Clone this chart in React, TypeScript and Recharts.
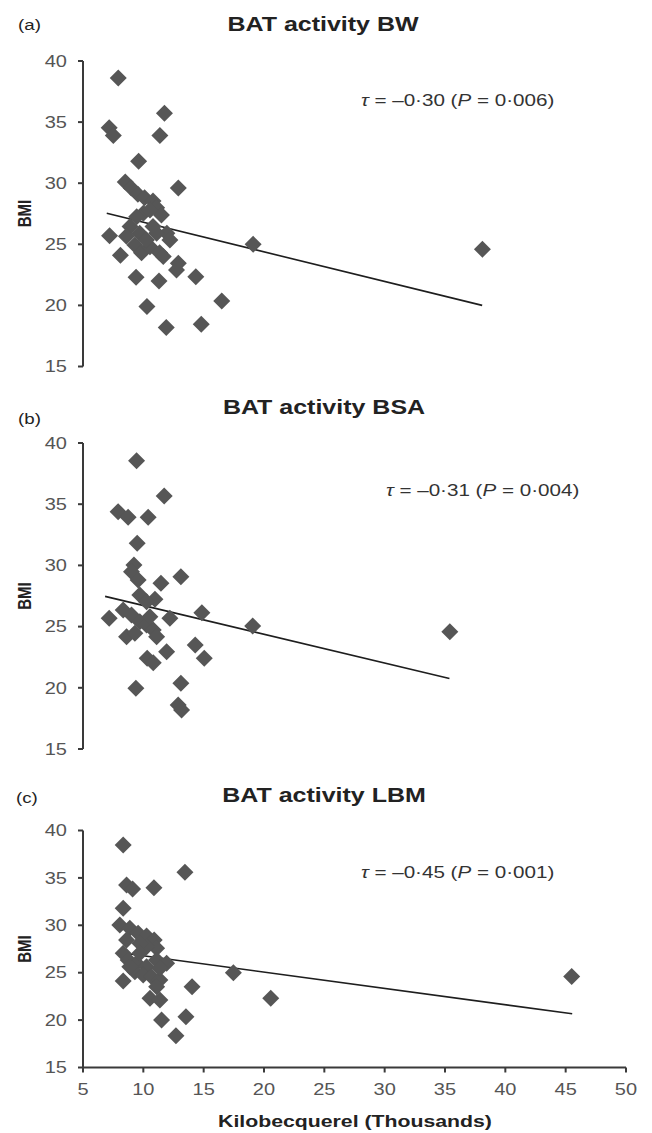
import React from 'react';
import { ScatterChart, Scatter, XAxis, YAxis, ReferenceLine } from 'recharts';

const FONT = '"Liberation Sans", Arial, Helvetica, sans-serif';
const SX = 1.25;

const xTicks = [5, 10, 15, 20, 25, 30, 35, 40, 45, 50];
const yTicks = [15, 20, 25, 30, 35, 40];

const panelTitles = ['BAT activity BW', 'BAT activity BSA', 'BAT activity LBM'];
const panelLetters = ['(a)', '(b)', '(c)'];
const tauValues = ['0·30', '0·31', '0·45'];
const pValues = ['0·006', '0·004', '0·001'];

// Panel (a) BAT activity BW
const bwX = [7.92, 7.17, 7.51, 11.75, 11.37, 9.61, 8.5, 12.9, 7.2, 8.1, 9.4, 11.3, 10.3, 11.9, 14.8, 16.5, 14.35, 12.9, 12.75, 19.1, 38.1,
  9.0, 9.55, 10.1, 10.8, 11.1, 11.5, 10.0, 10.55, 9.45, 8.9, 8.6, 9.3, 9.85, 10.55, 11.35, 11.65, 11.95, 11.1, 12.2, 10.8, 9.7, 10.25];
const bwY = [38.6, 34.54, 33.91, 35.72, 33.91, 31.8, 30.1, 29.6, 25.7, 24.1, 22.3, 22.0, 19.9, 18.2, 18.45, 20.35, 22.35, 23.45, 22.9, 25.0, 24.6,
  29.6, 29.1, 28.8, 28.55, 28.0, 27.4, 27.55, 27.8, 27.25, 26.45, 25.65, 24.95, 24.3, 24.8, 24.3, 24.0, 25.9, 25.9, 25.35, 26.45, 25.9, 25.35];

// Panel (b) BAT activity BSA
const bsaX = [9.44, 11.73, 7.91, 8.74, 10.4, 9.49, 9.22, 9.02, 9.57, 11.46, 13.11, 9.71, 10.96, 10.27, 7.17, 8.33, 9.02, 9.71, 10.27, 10.82, 11.1,
  10.54, 12.2, 14.85, 8.61, 9.3, 11.93, 14.3, 15.05, 10.32, 10.82, 9.38, 13.11, 12.89, 13.17, 19.06, 35.4];
const bsaY = [38.55, 35.67, 34.39, 33.93, 33.93, 31.8, 30.03, 29.49, 28.81, 28.54, 29.08, 27.58, 27.23, 27.03, 25.68, 26.36, 25.95, 25.4, 25.13, 24.72, 24.17,
  25.81, 25.68, 26.14, 24.17, 24.45, 22.95, 23.5, 22.41, 22.41, 22.05, 19.96, 20.37, 18.59, 18.18, 25.05, 24.57];

// Panel (c) BAT activity LBM
const lbmX = [8.33, 13.45, 8.61, 9.11, 10.88, 8.33, 8.05, 8.88, 9.57, 10.27, 10.9, 11.1, 10.27, 9.71, 8.33, 8.74, 9.44, 10.27, 11.1, 11.93, 9.3,
  9.99, 10.68, 11.37, 11.1, 8.33, 14.04, 10.55, 11.37, 11.51, 13.53, 12.7, 17.46, 20.56, 45.5, 8.61, 9.71, 11.37, 8.88];
const lbmY = [38.47, 35.59, 34.25, 33.83, 33.97, 31.79, 30.03, 29.68, 29.16, 28.87, 28.45, 27.57, 27.74, 28.1, 27.05, 26.34, 25.99, 25.63, 26.34, 25.99, 25.1,
  24.76, 24.58, 24.23, 23.52, 24.12, 23.52, 22.3, 22.12, 20.01, 20.36, 18.35, 25.0, 22.3, 24.61, 28.45, 27.05, 25.47, 25.63];

// Regression lines (start x, start y, end x, end y)
const bwTrend = [6.97, 27.54, 38.08, 20.0];
const bsaTrend = [6.83, 27.47, 35.37, 20.76];
const lbmTrend = [7.85, 27.15, 45.54, 20.67];

const zip = (xs: number[], ys: number[]) => xs.map((x, i) => ({ x, y: ys[i] }));
const seg = (t: number[]) => [{ x: t[0], y: t[1] }, { x: t[2], y: t[3] }];

const Diamond = (props: any) => {
  const { cx, cy } = props;
  if (cx == null || cy == null) return null;
  const r = 8.5;
  return <path d={`M${cx},${cy - r}L${cx + r},${cy}L${cx},${cy + r}L${cx - r},${cy}Z`} fill="#565656" />;
};

const YTick = (props: any) => {
  const { x, y, payload } = props;
  return (
    <text transform={`translate(${x},${y}) scale(${SX},1)`} textAnchor="end" dy="0.36em" fontSize={16} fill="#555" fontFamily={FONT}>
      {payload.value}
    </text>
  );
};

const XTick = (props: any) => {
  const { x, y, payload } = props;
  return (
    <text transform={`translate(${x},${y}) scale(${SX},1)`} textAnchor="middle" dy="0.71em" fontSize={16} fill="#555" fontFamily={FONT}>
      {payload.value}
    </text>
  );
};

const axisStroke = { stroke: '#3a3a3a', strokeWidth: 2 };

type PanelProps = { top: number; height: number; margin: any; data: any[]; trend: number[]; showX: boolean };

function Panel({ top, height, margin, data, trend, showX }: PanelProps) {
  return (
    <div style={{ position: 'absolute', left: 0, top, width: 652, height }}>
      <ScatterChart width={652} height={height} margin={margin}>
        <XAxis
          type="number"
          dataKey="x"
          domain={[5, 50]}
          ticks={xTicks}
          interval={0}
          hide={!showX}
          height={50}
          axisLine={axisStroke}
          tickLine={axisStroke}
          tickSize={5}
          tickMargin={11}
          tick={XTick}
          allowDataOverflow
        />
        <YAxis
          type="number"
          dataKey="y"
          domain={[15, 40]}
          ticks={yTicks}
          interval={0}
          width={83}
          axisLine={axisStroke}
          tickLine={axisStroke}
          tickSize={5}
          tickMargin={11}
          tick={YTick}
          allowDataOverflow
        />
        <ReferenceLine segment={seg(trend)} stroke="#1e1e1e" strokeWidth={1.6} ifOverflow="visible" />
        <Scatter data={data} shape={Diamond} fill="#565656" isAnimationActive={false} />
      </ScatterChart>
    </div>
  );
}

const STXT = (p: { x: number; y: number; size: number; bold?: boolean; anchor?: string; fill?: string; children: any }) => (
  <text
    transform={`translate(${p.x},${p.y}) scale(${SX},1)`}
    textAnchor={p.anchor || 'start'}
    fontSize={p.size}
    fontWeight={p.bold ? 'bold' : 'normal'}
    fill={p.fill || '#222'}
    fontFamily={FONT}
  >
    {p.children}
  </text>
);

const letterPos = [{ x: 18, y: 30 }, { x: 18, y: 424 }, { x: 16, y: 802.5 }];
const titlePos = [{ x: 323, y: 31 }, { x: 324, y: 413.5 }, { x: 324, y: 801.5 }];
const notePos = [{ x: 361, y: 106 }, { x: 386, y: 496 }, { x: 361, y: 878 }];
const bmiPos = [213.5, 596, 949];

export default function App() {
  return (
    <div style={{ position: 'absolute', left: 0, top: 0, width: 652, height: 1133, background: '#fff', overflow: 'hidden' }}>
      <Panel top={0} height={380} margin={{ top: 61, right: 26, bottom: 13.5, left: 0 }} data={zip(bwX, bwY)} trend={bwTrend} showX={false} />
      <Panel top={380} height={380} margin={{ top: 63, right: 26, bottom: 11, left: 0 }} data={zip(bsaX, bsaY)} trend={bsaTrend} showX={false} />
      <Panel top={760} height={373} margin={{ top: 70.5, right: 26, bottom: 15.5, left: 0 }} data={zip(lbmX, lbmY)} trend={lbmTrend} showX={true} />
      <svg width={652} height={1133} style={{ position: 'absolute', left: 0, top: 0, pointerEvents: 'none' }}>
        {panelLetters.map((l, i) => (
          <STXT key={'l' + i} x={letterPos[i].x} y={letterPos[i].y} size={15}>{l}</STXT>
        ))}
        {panelTitles.map((t, i) => (
          <STXT key={'t' + i} x={titlePos[i].x} y={titlePos[i].y} size={20} bold anchor="middle">{t}</STXT>
        ))}
        {tauValues.map((v, i) => (
          <STXT key={'n' + i} x={notePos[i].x} y={notePos[i].y} size={16.5} fill="#333">
            <tspan fontStyle="italic">τ</tspan>
            {` = –${v} (`}
            <tspan fontStyle="italic">P</tspan>
            {` = ${pValues[i]})`}
          </STXT>
        ))}
        {bmiPos.map((cy, i) => (
          <text
            key={'b' + i}
            transform={`translate(24.5,${cy}) scale(${SX},1) rotate(-90)`}
            textAnchor="middle"
            dy="0.36em"
            fontSize={15}
            fontWeight="bold"
            fill="#222"
            fontFamily={FONT}
          >
            BMI
          </text>
        ))}
        <STXT x={355} y={1127} size={17} bold anchor="middle">Kilobecquerel (Thousands)</STXT>
      </svg>
    </div>
  );
}
